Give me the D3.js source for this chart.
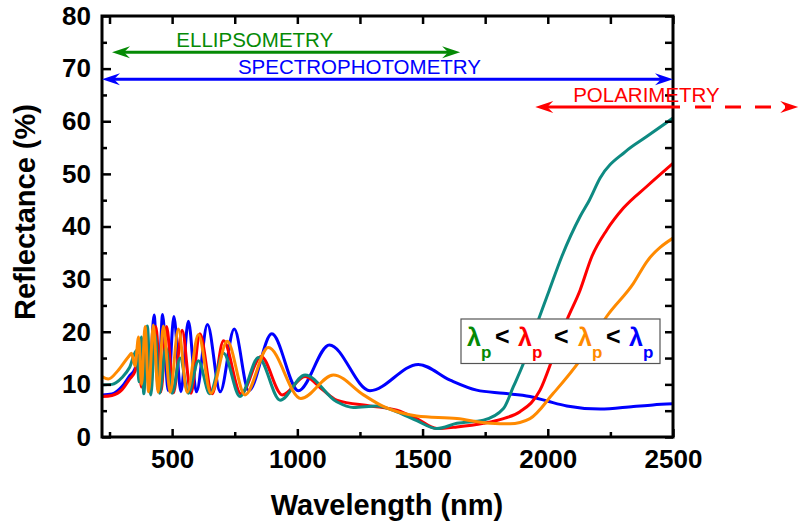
<!DOCTYPE html>
<html>
<head>
<meta charset="utf-8">
<script src="https://cdn.jsdelivr.net/npm/d3@7"></script>
<style>
  html, body { margin: 0; padding: 0; background: #fff; }
  svg { display: block; font-family: "Liberation Sans", Arial, sans-serif; }
</style>
</head>
<body>
<svg id="chart" width="799" height="524"></svg>
<script>
// ---------- data ----------
const blueWl = [220, 260, 300, 330, 352, 366, 378, 392, 408, 428, 445, 462, 484, 507, 535, 565, 597, 641, 692, 748, 806, 898, 1004, 1128, 1290, 1483, 1610, 1716, 1823, 1929, 2000, 2076, 2209, 2342, 2420, 2500];
const blueR  = [8.0, 8.2, 9.6, 11.6, 13.0, 15.5, 11.0, 19.5, 9.5, 23.2, 8.9, 23.3, 8.8, 22.9, 8.6, 22.0, 8.6, 21.4, 8.6, 20.5, 8.8, 19.6, 8.8, 17.5, 8.8, 13.8, 10.8, 8.9, 8.3, 7.7, 6.8, 5.9, 5.3, 5.8, 6.1, 6.3];

const redWl = [220, 260, 300, 330, 352, 365, 378, 395, 412, 435, 455, 478, 505, 540, 575, 611, 660, 705, 775, 855, 940, 1031, 1100, 1157, 1290, 1397, 1477, 1557, 1637, 1743, 1823, 1889, 1969, 2022, 2076, 2129, 2176, 2235, 2302, 2395, 2500];
const redR  = [7.7, 7.9, 9.0, 11.0, 12.5, 15.0, 9.5, 20.5, 8.6, 21.0, 8.6, 21.0, 8.4, 20.3, 8.3, 19.6, 8.2, 18.3, 8.2, 15.3, 8.0, 11.5, 9.0, 7.0, 5.9, 5.1, 3.5, 1.6, 1.9, 2.6, 3.5, 4.8, 8.9, 15.3, 22.2, 27.9, 34.3, 39.3, 43.5, 47.6, 52.0];

const tealWl = [220, 260, 300, 330, 358, 368, 377, 387, 401, 415, 432, 450, 475, 500, 532, 565, 605, 650, 705, 771, 845, 931, 1031, 1157, 1224, 1317, 1397, 1477, 1557, 1637, 1743, 1823, 1863, 1903, 1962, 2006, 2056, 2129, 2166, 2209, 2309, 2395, 2500];
const tealR  = [9.9, 10.0, 11.3, 13.2, 16.5, 10.5, 19.0, 8.2, 21.1, 8.0, 19.5, 8.3, 17.0, 8.3, 15.0, 8.3, 14.5, 8.2, 15.9, 7.7, 15.1, 7.0, 11.8, 6.7, 5.6, 5.9, 4.8, 3.1, 1.6, 2.6, 3.2, 5.4, 9.6, 14.0, 22.2, 27.9, 34.3, 41.9, 45.0, 49.2, 54.2, 57.1, 60.6];

const orangeWl = [220, 245, 285, 325, 338, 352, 366, 378, 392, 406, 425, 444, 465, 492, 525, 560, 605, 655, 720, 791, 884, 1014, 1144, 1264, 1343, 1477, 1637, 1770, 1849, 1929, 2022, 2129, 2235, 2342, 2395, 2500];
const orangeR  = [11.5, 11.0, 12.7, 15.2, 15.9, 13.5, 19.0, 10.0, 21.0, 8.6, 21.3, 8.5, 21.1, 8.5, 20.5, 8.5, 19.5, 8.3, 18.2, 8.0, 17.0, 7.3, 11.8, 8.0, 5.8, 4.0, 3.5, 2.6, 2.5, 3.5, 8.3, 14.6, 22.9, 29.2, 33.3, 37.8];

const xMajorTicks = [500, 1000, 1500, 2000, 2500];
const xMinorTicks = [250, 750, 1250, 1750, 2250];
const yMajorTicks = [0, 10, 20, 30, 40, 50, 60, 70, 80];
const yMinorTicks = [5, 15, 25, 35, 45, 55, 65, 75];

// measurement ranges (arrows)
const rangeLabels = ["ELLIPSOMETRY", "SPECTROPHOTOMETRY", "POLARIMETRY"];
const rangeStart  = [260, 220, 1950];
const rangeEnd    = [1650, 2500, 2500];
const rangeExtend = [null, null, 3000];
const rangeLevel  = [73.1, 68.0, 62.7];
const rangeLabelWl = [830, 1248, 2394];

const legendLabels = ["λ", "λ", "λ", "λ"];

// ---------- drawing ----------
const COL = { blue: "#0000ff", red: "#ff0000", teal: "#0e8a82", orange: "#ff8a00", green: "#058a05" };

const svg = d3.select("#chart");
const x = d3.scaleLinear().domain([220, 2500]).range([102, 673]);
const y = d3.scaleLinear().domain([0, 80]).range([437, 16]);

// curves
const series = [
  { wl: blueWl, r: blueR, c: COL.blue },
  { wl: redWl, r: redR, c: COL.red },
  { wl: tealWl, r: tealR, c: COL.teal },
  { wl: orangeWl, r: orangeR, c: COL.orange }
];
const line = d3.line().x(d => x(d[0])).y(d => y(d[1])).curve(d3.curveMonotoneX);
svg.append("defs").append("clipPath").attr("id", "clip")
  .append("rect").attr("x", 102).attr("y", 16).attr("width", 571).attr("height", 421);
const gCurves = svg.append("g").attr("clip-path", "url(#clip)");
series.forEach(s => {
  gCurves.append("path")
    .datum(s.wl.map((w, i) => [w, s.r[i]]))
    .attr("d", line)
    .attr("fill", "none")
    .attr("stroke", s.c)
    .attr("stroke-width", 3)
    .attr("stroke-linejoin", "round");
});

// axes
function styleAxis(g) {
  g.select(".domain").remove();
  g.selectAll(".tick line").attr("stroke", "#000").attr("stroke-width", 2.5);
  g.selectAll(".tick text").attr("fill", "#000").attr("font-size", 26).attr("font-weight", "bold")
    .attr("font-family", "'Liberation Sans', Arial, sans-serif");
}
svg.append("g").attr("transform", "translate(0,437)")
  .call(d3.axisBottom(x).tickValues(xMajorTicks).tickSize(-8).tickPadding(13).tickFormat(d3.format("d")))
  .call(styleAxis);
svg.append("g").attr("transform", "translate(0,437)")
  .call(d3.axisBottom(x).tickValues(xMinorTicks).tickSize(-5).tickFormat(""))
  .call(styleAxis);
svg.append("g").attr("transform", "translate(0,16)")
  .call(d3.axisTop(x).tickValues(xMajorTicks.concat(xMinorTicks)).tickSize(-8).tickFormat(""))
  .call(styleAxis);
svg.append("g").attr("transform", "translate(102,0)")
  .call(d3.axisLeft(y).tickValues(yMajorTicks).tickSize(-9).tickPadding(11).tickFormat(d3.format("d")))
  .call(styleAxis);
svg.append("g").attr("transform", "translate(102,0)")
  .call(d3.axisLeft(y).tickValues(yMinorTicks).tickSize(-5).tickFormat(""))
  .call(styleAxis);
svg.append("g").attr("transform", "translate(673,0)")
  .call(d3.axisRight(y).tickValues(yMajorTicks.concat(yMinorTicks)).tickSize(-8).tickFormat(""))
  .call(styleAxis);

// frame
svg.append("rect").attr("x", 102).attr("y", 16).attr("width", 571).attr("height", 421)
  .attr("fill", "none").attr("stroke", "#000").attr("stroke-width", 3);

// axis titles
svg.append("text").attr("x", 387).attr("y", 515).attr("text-anchor", "middle")
  .attr("font-size", 29).attr("font-weight", "bold").text("Wavelength (nm)");
svg.append("text").attr("transform", "translate(35,212) rotate(-90)").attr("text-anchor", "middle")
  .attr("font-size", 29).attr("font-weight", "bold").text("Reflectance (%)");

// arrows
const rangeColors = [COL.green, COL.blue, COL.red];
function head(xTip, yy, dir, color) {
  const L = 18, w = 6, n = 12;
  const p = [[xTip, yy], [xTip - dir * L, yy - w], [xTip - dir * n, yy], [xTip - dir * L, yy + w]];
  svg.append("path").attr("d", "M" + p.map(q => q.join(",")).join("L") + "Z").attr("fill", color);
}
const xExt = d3.scaleLinear().domain([220, 2500]).range([102, 673]); // same scale, extended beyond the plot
rangeLabels.forEach((lab, i) => {
  const yy = y(rangeLevel[i]);
  const x0 = x(rangeStart[i]), x1 = x(rangeEnd[i]);
  const c = rangeColors[i];
  const solidEnd = rangeExtend[i] ? x1 + 7 : x1 - 10;
  svg.append("line").attr("x1", x0 + 10).attr("x2", solidEnd).attr("y1", yy).attr("y2", yy)
    .attr("stroke", c).attr("stroke-width", 3);
  head(x0, yy, -1, c);
  if (rangeExtend[i]) {
    const x2 = xExt(rangeExtend[i]);
    svg.append("line").attr("x1", x1 + 22).attr("x2", x2 - 12).attr("y1", yy).attr("y2", yy)
      .attr("stroke", c).attr("stroke-width", 3).attr("stroke-dasharray", "16,14");
    head(x2, yy, 1, c);
  } else {
    head(x1, yy, 1, c);
  }
  svg.append("text").attr("x", x(rangeLabelWl[i])).attr("y", yy - 5).attr("text-anchor", "middle")
    .attr("font-size", 20.5).attr("fill", c).text(lab);
});

// legend box
svg.append("rect").attr("x", 461).attr("y", 319).attr("width", 199).attr("height", 44.5)
  .attr("fill", "#fff").attr("stroke", "#555").attr("stroke-width", 1.2);
const legendColors = [COL.green, COL.red, COL.orange, COL.blue];
const lamX = [467, 518, 578, 629];
const ltX = [495, 554, 606];
legendLabels.forEach((l, i) => {
  const t = svg.append("text").attr("x", lamX[i]).attr("y", 346).attr("font-weight", "bold").attr("fill", legendColors[i]);
  t.append("tspan").attr("font-size", 25).text(l);
  t.append("tspan").attr("font-size", 17).attr("dy", 12).text("p");
  if (i < 3) {
    svg.append("text").attr("x", ltX[i]).attr("y", 345).attr("font-weight", "bold").attr("font-size", 25)
      .attr("fill", "#000").text("<");
  }
});
</script>
</body>
</html>
